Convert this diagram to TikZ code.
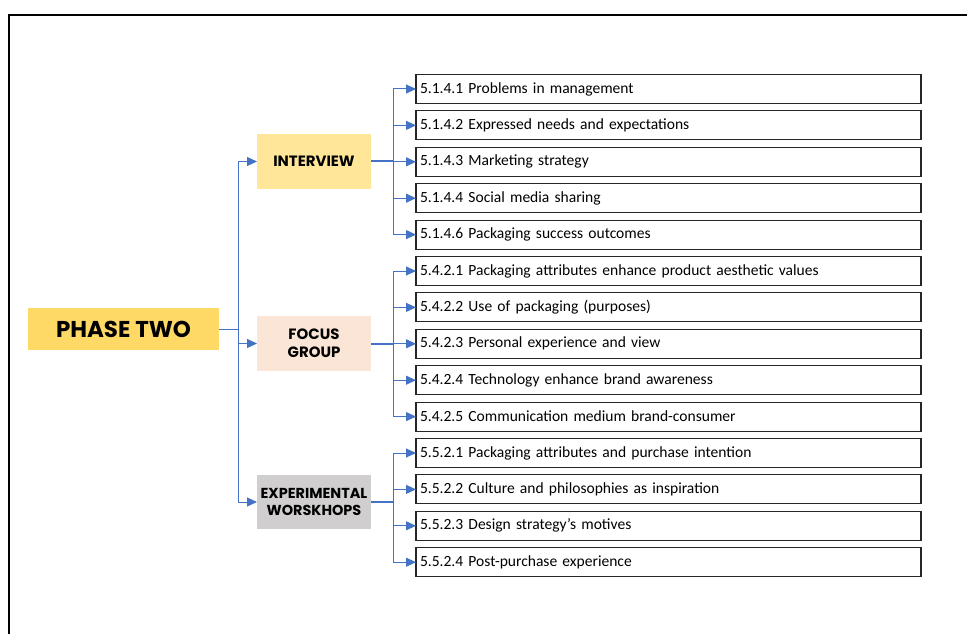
\documentclass[tikz,border=0pt]{standalone}
\usepackage{fontspec}
\setmainfont{Carlito}
\newfontfamily\headfont{Poppins}
\usetikzlibrary{positioning, arrows.meta}
\definecolor{linkblue}{HTML}{4472C4}
\definecolor{gold}{HTML}{FFD966}
\definecolor{lightgold}{HTML}{FFE699}
\definecolor{peach}{HTML}{FBE5D6}
\definecolor{greyfill}{HTML}{D0CECE}

\begin{document}
\begin{tikzpicture}[
  x=1bp, y=-1bp,
  every node/.style={inner sep=0pt, outer sep=0pt},
  phasebox/.style={fill=gold, minimum width=191bp, minimum height=42bp,
                   font=\headfont\bfseries\fontsize{23}{25}\selectfont},
  groupbox/.style={minimum width=114bp, minimum height=55bp, align=center,
                   font=\headfont\bfseries\fontsize{15}{18}\selectfont},
  topic/.style={draw=black!85, line width=1.1bp, minimum height=29bp,
                text width=497bp, inner xsep=4bp, align=left,
                font=\fontsize{15.6}{17}\selectfont},
  arr/.style={-{Triangle[length=10bp, width=9bp]}, linkblue, line width=1bp},
  stem/.style={linkblue, line width=2bp},
  node distance=7.4bp
]
\useasboundingbox (0,0) rectangle (967,634);
\draw[line width=2bp] (9,640) -- (9,15) -- (970,15);

% phase and groups
\node[phasebox] (phase) at (123.5,329) {PHASE TWO};
\node[groupbox, fill=lightgold] (interview) at (314,161.5) {INTERVIEW};
\node[groupbox, fill=peach] (focus) at (314,343.5) {FOCUS\\GROUP};
\node[groupbox, fill=greyfill, minimum height=54bp,
      font=\headfont\bfseries\fontsize{14.5}{17}\selectfont] (workshop) at (314,502) {EXPERIMENTAL\\WORSKHOPS};

% topics
\node[topic, anchor=north west] (i1) at (416,74.5) {5.1.4.1 Problems in management};
\node[topic, below=of i1] (i2) {5.1.4.2 Expressed needs and expectations};
\node[topic, below=of i2] (i3) {5.1.4.3 Marketing strategy};
\node[topic, below=of i3] (i4) {5.1.4.4 Social media sharing};
\node[topic, below=of i4] (i5) {5.1.4.6 Packaging success outcomes};
\node[topic, below=of i5] (f1) {5.4.2.1 Packaging attributes enhance product aesthetic values};
\node[topic, below=of f1] (f2) {5.4.2.2 Use of packaging (purposes)};
\node[topic, below=of f2] (f3) {5.4.2.3 Personal experience and view};
\node[topic, below=of f3] (f4) {5.4.2.4 Technology enhance brand awareness};
\node[topic, below=of f4] (f5) {5.4.2.5 Communication medium brand-consumer};
\node[topic, below=of f5] (e1) {5.5.2.1 Packaging attributes and purchase intention};
\node[topic, below=of e1] (e2) {5.5.2.2 Culture and philosophies as inspiration};
\node[topic, below=of e2] (e3) {5.5.2.3 Design strategy’s motives};
\node[topic, below=of e3] (e4) {5.5.2.4 Post-purchase experience};

% phase to groups
\draw[linkblue, line width=1bp] (phase.east) -- ++(19,0) coordinate (pj);
\draw[arr] (pj) |- (interview.west);
\draw[arr] (pj) |- (focus.west);
\draw[arr] (pj) |- (workshop.west);

% groups to topics
\draw[stem] (interview.east) -- ++(22,0) coordinate (ij);
\draw[arr] (ij) |- (i1.west);
\draw[arr] (ij) |- (i2.west);
\draw[arr] (ij) |- (i3.west);
\draw[arr] (ij) |- (i4.west);
\draw[arr] (ij) |- (i5.west);

\draw[stem] (focus.east) -- ++(22,0) coordinate (fj);
\draw[arr] (fj) |- (f1.west);
\draw[arr] (fj) |- (f2.west);
\draw[arr] (fj) |- (f3.west);
\draw[arr] (fj) |- (f4.west);
\draw[arr] (fj) |- (f5.west);

\draw[stem] (workshop.east) -- ++(22,0) coordinate (ej);
\draw[arr] (ej) |- (e1.west);
\draw[arr] (ej) |- (e2.west);
\draw[arr] (ej) |- (e3.west);
\draw[arr] (ej) |- (e4.west);
\end{tikzpicture}
\end{document}
